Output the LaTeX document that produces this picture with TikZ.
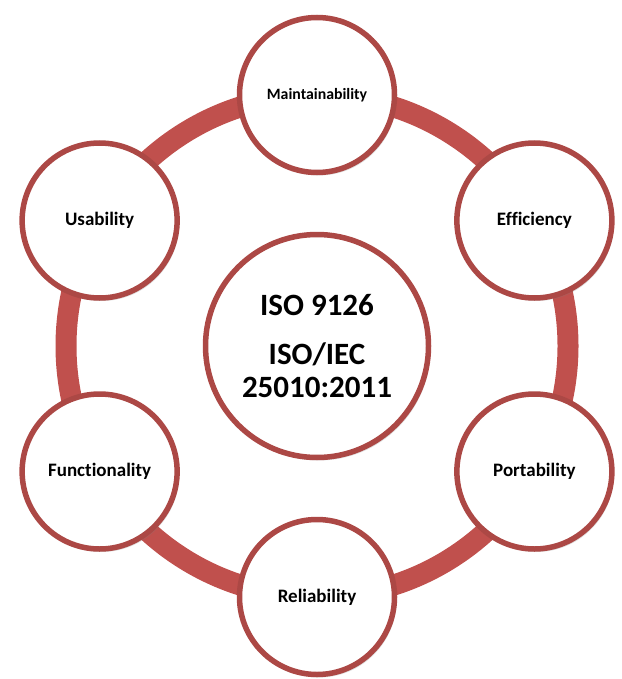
\documentclass[tikz,border=0pt]{standalone}
\usepackage{fontspec}
\setmainfont{Carlito}[Ligatures={NoCommon}]
\usepackage{xcolor}
\usetikzlibrary{shadows}

\definecolor{ringred}{HTML}{C0504D}
\definecolor{rimred}{HTML}{AC4845}

\tikzset{
  qualnode/.style={circle, draw=rimred, line width=5.5pt, fill=white,
    minimum size=155pt, inner sep=0pt, font=\bfseries\fontsize{19}{22}\selectfont,
    drop shadow={shadow xshift=2pt, shadow yshift=-3pt, opacity=0.25}},
  hubnode/.style={qualnode, minimum size=223pt, align=center,
    font=\bfseries\fontsize{31}{33}\selectfont}
}

\begin{document}
\begin{tikzpicture}[x=1pt,y=-1pt]
\useasboundingbox (0,0) rectangle (621,679);

\coordinate (hub) at (317,346);

% ring
\draw[ringred, line width=21pt] (hub) circle (251);

% characteristics
\foreach \ang/\nm/\sz/\txt in {-90/maint/15.8/Maintainability, -30/effic/19/Efficiency,
  30/port/19/Portability, 90/reliab/19/Reliability,
  150/func/19/Functionality, -150/usab/19/Usability}{
\node[qualnode] (\nm) at ([shift={(\ang:251)}]hub) {\fontsize{\sz}{\sz}\selectfont\txt};
}

\node[hubnode] (iso) at (hub) {ISO 9126\\[16pt]ISO/IEC\\25010:2011};

\end{tikzpicture}
\end{document}
